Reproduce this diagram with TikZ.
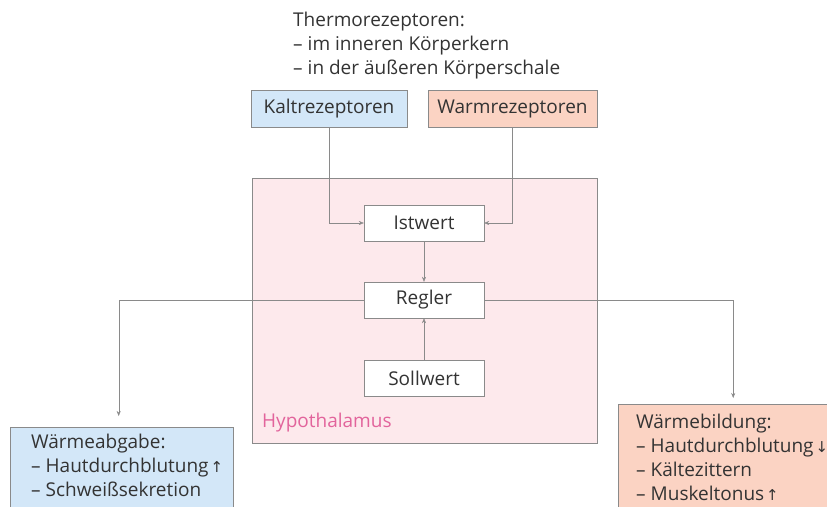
\documentclass[tikz,border=0pt]{standalone}
\usepackage{fontspec}
\setmainfont{Open Sans}
\newfontfamily\arrowfont{DejaVu Sans}
\usepackage{xcolor}
\usetikzlibrary{arrows.meta, positioning}
\definecolor{coldblue}{HTML}{D3E7F8}
\definecolor{warmred}{HTML}{FBD3C3}
\definecolor{hypopink}{HTML}{FDE9EC}
\definecolor{hypotext}{HTML}{E2649C}
\definecolor{framegray}{HTML}{8A8A8A}
\definecolor{textgray}{HTML}{333333}
\newcommand{\up}{\hspace{2pt}{\arrowfont\fontsize{15}{24}\selectfont↑}}
\newcommand{\down}{\hspace{2pt}{\arrowfont\fontsize{15}{24}\selectfont↓}}
\newcommand{\dash}{–\hspace{5pt}}

\begin{document}
\begin{tikzpicture}[x=1pt, y=-1pt, >={Stealth[length=5pt, width=4pt]},
    every node/.style={text=textgray, font=\fontsize{19}{24}\selectfont},
    valuebox/.style={draw=framegray, fill=white, minimum width=120pt, minimum height=36pt, inner sep=0pt},
    receptor/.style={draw=framegray, minimum height=37pt, inner sep=0pt},
    effectbox/.style={draw=framegray, anchor=north west, align=left, inner ysep=0pt}]
        \useasboundingbox (0,0) rectangle (827,506);
        \clip (0,0) rectangle (827,506);
        \node[anchor=north west, align=left, inner sep=0pt] (title) at (293,12) {Thermorezeptoren:\\\dash im inneren Körperkern\\\dash in der äußeren Körperschale};
        \node[receptor, fill=coldblue, minimum width=156pt] (kalt) at (329,108.5) {Kaltrezeptoren};
        \node[receptor, fill=warmred, minimum width=169pt] (warm) at (512.5,108.5) {Warmrezeptoren};
        \node[draw=framegray, fill=hypopink, minimum width=345pt, minimum height=265pt, inner sep=0pt] (hypo) at (424.5,310.5) {};
        \node[anchor=west, inner sep=0pt, text=hypotext] (hypolabel) at (262,423) {Hypothalamus};
        \node[valuebox] (ist) at (424,223) {Istwert};
        \node[valuebox] (regler) at (424,300) {Regler};
        \node[valuebox] (soll) at (424,378.5) {Sollwert};
        \node[effectbox, fill=coldblue, inner xsep=21pt, text width=181pt, minimum height=100pt] (abgabe) at (10,427) {Wärmeabgabe:\\\mbox{\dash Hautdurchblutung\up}\\\dash Schweißsekretion\\\mbox{}};
        \node[effectbox, fill=warmred, inner xsep=18pt, text width=200pt, minimum height=107pt] (bildung) at (618,404) {Wärmebildung:\\\mbox{\dash Hautdurchblutung\down}\\\dash Kältezittern\\\dash Muskeltonus\up};
        \draw[framegray, ->] (kalt.south) |- (ist.west);
        \draw[framegray, ->] (warm.south) |- (ist.east);
        \draw[framegray, ->] (ist.south) -- (regler.north);
        \draw[framegray, ->] (soll.north) -- (regler.south);
        \draw[framegray, ->, shorten >=11pt] (regler.west) -| ([xshift=-3pt]abgabe.north);
        \draw[framegray, ->, shorten >=6pt] (regler.east) -| ([xshift=-3pt]bildung.north);
    \end{tikzpicture}
\end{document}
